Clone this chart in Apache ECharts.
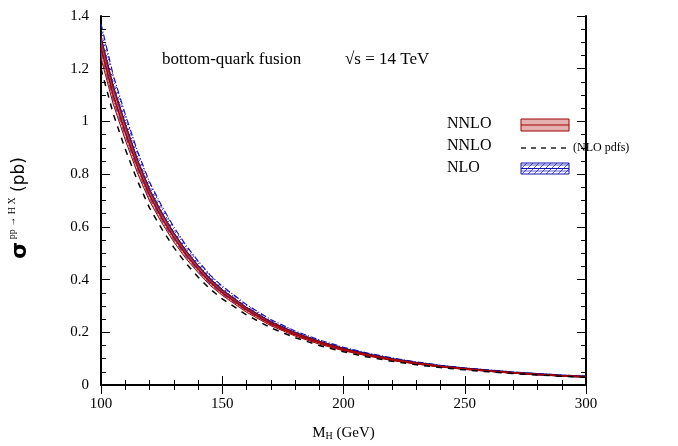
<!DOCTYPE html>
<html><head><meta charset="utf-8">
<script src="https://cdn.jsdelivr.net/npm/echarts@6/dist/echarts.min.js"></script>
<style>html,body{margin:0;padding:0;background:#fff}#c{width:678px;height:446px}</style>
</head><body><div id="c"></div>
<script>
const massH = [100,105,110,115,120,125,130,135,140,145,150,160,170,180,190,200,210,220,230,240,250,260,270,280,290,300];
const nnloCentral = [1.28,1.10,0.96,0.83,0.72,0.635,0.56,0.495,0.44,0.39,0.35,0.285,0.232,0.192,0.160,0.134,0.113,0.096,0.082,0.070,0.061,0.053,0.046,0.040,0.035,0.031];
const nnloLow = [1.24,1.067,0.93,0.805,0.698,0.616,0.543,0.48,0.427,0.378,0.34,0.276,0.225,0.186,0.155,0.13,0.11,0.093,0.0795,0.068,0.059,0.0514,0.0446,0.0388,0.034,0.030];
const nnloHigh = [1.32,1.133,0.99,0.855,0.742,0.654,0.577,0.51,0.453,0.402,0.361,0.294,0.239,0.198,0.165,0.138,0.116,0.099,0.0845,0.072,0.063,0.0546,0.0474,0.0412,0.036,0.032];
const nloCentral = [1.31,1.13,0.985,0.85,0.738,0.65,0.574,0.507,0.451,0.40,0.359,0.292,0.238,0.197,0.164,0.137,0.116,0.098,0.084,0.0718,0.0625,0.0543,0.0471,0.041,0.0358,0.0317];
const nloHigh = [1.37,1.177,1.027,0.888,0.77,0.68,0.6,0.53,0.471,0.417,0.375,0.305,0.248,0.205,0.171,0.143,0.121,0.103,0.0877,0.075,0.065,0.0567,0.0492,0.0428,0.0375,0.033];
const nloLow = [1.26,1.083,0.946,0.818,0.709,0.625,0.552,0.488,0.433,0.384,0.345,0.281,0.229,0.189,0.158,0.132,0.111,0.0946,0.0808,0.069,0.060,0.0522,0.0453,0.0394,0.0345,0.0305];
const nnloNloPdfs = [1.20,1.03,0.895,0.775,0.672,0.593,0.522,0.462,0.41,0.364,0.327,0.266,0.217,0.18,0.15,0.126,0.106,0.090,0.077,0.066,0.0575,0.050,0.0435,0.038,0.0332,0.0295];
const xTicks = [100,150,200,250,300];
const yTicks = [0,0.2,0.4,0.6,0.8,1,1.2,1.4];

const pair = (ys) => massH.map((m,i)=>[m, ys[i]]);
const bandRows = (lo, hi) => massH.map((m,i)=>[m, lo[i], hi[i]]);

function hatch(){
  const c = document.createElement('canvas'); c.width = 6; c.height = 6;
  const g = c.getContext('2d');
  g.strokeStyle = 'rgba(20,20,170,0.7)'; g.lineWidth = 1;
  g.beginPath(); g.moveTo(0,6); g.lineTo(6,0); g.moveTo(-1,1); g.lineTo(1,-1); g.moveTo(5,7); g.lineTo(7,5); g.stroke();
  g.beginPath(); g.moveTo(0,3); g.lineTo(6,3); g.stroke();
  return c;
}
const hatchImg = hatch();

function bandSeries(rows, fill, z){
  return {
    type:'custom', data:rows, z:z, silent:true,
    encode:{x:0, y:[1,2]},
    renderItem:(params, api) => {
      if (params.dataIndex !== 0) return null;
      const up = rows.map(r => api.coord([r[0], r[2]]));
      const dn = rows.map(r => api.coord([r[0], r[1]])).reverse();
      const cs = params.coordSys;
      return {type:'polygon', shape:{points: up.concat(dn)}, style:{fill:fill, stroke:null},
        clipPath:{type:'rect', shape:{x:cs.x, y:cs.y, width:cs.width, height:cs.height}}};
    }
  };
}

const serif = 'Liberation Serif';
const chart = echarts.init(document.getElementById('c'), null, {renderer:'canvas'});
const axLine = {show:true, lineStyle:{color:'#000', width:2}};
const common = {
  type:'value', min:100, max:300, interval:50,
  axisLine: axLine, splitLine:{show:false},
  axisTick:{show:true, inside:true, length:9, lineStyle:{color:'#000', width:1}},
  minorTick:{show:true, splitNumber:5, length:5, lineStyle:{color:'#000', width:1}},
  minorSplitLine:{show:false}
};
const commonY = {
  type:'value', min:0, max:1.4, interval:0.2,
  axisLine: axLine, splitLine:{show:false},
  axisTick:{show:true, inside:true, length:9, lineStyle:{color:'#000', width:1}},
  minorTick:{show:true, splitNumber:4, length:5, lineStyle:{color:'#000', width:1}},
  minorSplitLine:{show:false}
};
const lineS = (name, ys, color, width, type, z) => ({
  type:'line', name:name, data:pair(ys), showSymbol:false, smooth:false, silent:true,
  lineStyle:{color:color, width:width, type:type}, z:z
});
const option = {
  animation:false,
  backgroundColor:'#fff',
  grid:{left:101, right:92, top:16, bottom:61, containLabel:false},
  xAxis:[
    Object.assign({}, common, {position:'bottom',
      axisLabel:{show:true, color:'#000', fontFamily:serif, fontSize:15, margin:12,
        formatter:(v)=> xTicks.includes(v) ? String(v) : ''},
      name:'M{sub|H} (GeV)', nameLocation:'middle', nameGap:40,
      nameTextStyle:{color:'#000', fontFamily:serif, fontSize:15,
        rich:{sub:{fontFamily:serif, fontSize:10, verticalAlign:'bottom', padding:[6,0,0,0]}}}
    }),
    Object.assign({}, common, {position:'top', axisLabel:{show:false}})
  ],
  yAxis:[
    Object.assign({}, commonY, {position:'left',
      axisLabel:{show:true, color:'#000', fontFamily:serif, fontSize:15, margin:12,
        formatter:(v)=> { const t = yTicks.find(y=>Math.abs(y-v)<1e-9); return t===undefined ? '' : String(+t.toFixed(1)); }}
    }),
    Object.assign({}, commonY, {position:'right', axisLabel:{show:false}})
  ],
  graphic:[
    {type:'text', left:162, top:51, style:{text:'bottom-quark fusion', fontFamily:serif, fontSize:17, fill:'#000'}},
    {type:'text', left:345, top:51, style:{text:'√s = 14 TeV', fontFamily:serif, fontSize:17, fill:'#000'}},
    {type:'text', left:447, top:116, style:{text:'NNLO', fontFamily:serif, fontSize:16, fill:'#000'}},
    {type:'text', left:447, top:138, style:{text:'NNLO', fontFamily:serif, fontSize:16, fill:'#000'}},
    {type:'text', left:447, top:160, style:{text:'NLO', fontFamily:serif, fontSize:16, fill:'#000'}},
    {type:'text', left:573, top:142, style:{text:'(NLO pdfs)', fontFamily:serif, fontSize:12, fill:'#000'}},
    {type:'rect', shape:{x:521, y:119, width:48, height:12}, style:{fill:'#e4b0b0', stroke:'#a00000', lineWidth:1}},
    {type:'line', shape:{x1:521, y1:125, x2:569, y2:125}, style:{stroke:'#a00000', lineWidth:1.2}},
    {type:'line', shape:{x1:521, y1:148, x2:568, y2:148}, style:{stroke:'#000', lineWidth:1.3, lineDash:[5,5]}},
    {type:'rect', shape:{x:521, y:163, width:48, height:11}, style:{fill:{image:hatchImg, repeat:'repeat'}, stroke:'#1010b0', lineWidth:1}},
    {type:'line', shape:{x1:521, y1:168.5, x2:569, y2:168.5}, style:{stroke:'#1010b0', lineWidth:1}},
    {type:'text', x:20, y:208, rotation:Math.PI/2, style:{
      text:'{s|σ}{sup| pp → H X}{p| (pb)}', align:'center', verticalAlign:'middle',
      rich:{
        s:{fontFamily:'DejaVu Sans', fontSize:22, fill:'#000', fontWeight:'bold', lineHeight:26},
        sup:{fontFamily:serif, fontSize:10, fill:'#000', verticalAlign:'top', lineHeight:26},
        p:{fontFamily:'DejaVu Sans', fontSize:17, fill:'#000', lineHeight:26}
      }}}
  ],
  series:[
    bandSeries(bandRows(nloLow, nloHigh), {image:hatchImg, repeat:'repeat'}, 2),
    lineS('nloLow', nloLow, '#1515b5', 1.2, [6,2,1,2], 3),
    lineS('nloHigh', nloHigh, '#1515b5', 1.2, [6,2,1,2], 3),
    lineS('nloCentral', nloCentral, '#00008b', 2.2, 'solid', 3),
    bandSeries(bandRows(nnloLow, nnloHigh), 'rgba(205,120,120,0.5)', 4),
    lineS('nnloLow', nnloLow, '#a00000', 1, 'solid', 5),
    lineS('nnloHigh', nnloHigh, '#a00000', 1, 'solid', 5),
    lineS('nnloCentral', nnloCentral, '#b00000', 1.6, 'solid', 5),
    lineS('nnloNloPdfs', nnloNloPdfs, '#000', 1.5, [6,6], 6)
  ]
};
chart.setOption(option);
</script></body></html>
